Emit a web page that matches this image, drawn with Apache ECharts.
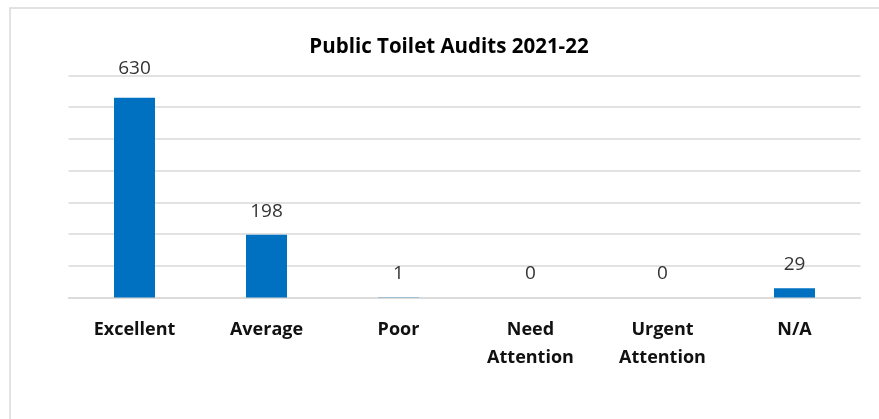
<!DOCTYPE html>
<html>
<head>
<meta charset="utf-8">
<script src="https://cdn.jsdelivr.net/npm/echarts@6/dist/echarts.min.js"></script>
<style>
  html, body { margin: 0; padding: 0; background: #fff; }
  #chart { width: 879px; height: 419px; }
</style>
</head>
<body>
<div id="chart"></div>
<script>
var categories = ["Excellent", "Average", "Poor", "Need\nAttention", "Urgent\nAttention", "N/A"];
var audits = [630, 198, 1, 0, 0, 29];

var chart = echarts.init(document.getElementById("chart"));

// Excel pushed the tallest label a bit higher than the rest
var barData = audits.map(function (v, i) {
  return i === 0 ? { value: v, label: { distance: 20 } } : v;
});

var option = {
  animation: false,
  backgroundColor: "#fff",
  title: {
    text: "Public Toilet Audits 2021-22",
    left: 444,
    top: 32,
    textAlign: "center",
    textStyle: {
      fontFamily: "Open Sans",
      fontWeight: "bold",
      fontSize: 20.5,
      color: "#000"
    }
  },
  graphic: [
    {
      type: "rect",
      shape: { x: 10, y: 8, width: 880, height: 430 },
      style: { fill: "none", stroke: "#d9d9d9", lineWidth: 1.5 },
      silent: true
    }
  ],
  grid: {
    left: 68.5,
    right: 18.5,
    top: 75.5,
    bottom: 121.5
  },
  xAxis: {
    type: "category",
    data: categories,
    axisLine: { show: true, lineStyle: { color: "#d9d9d9", width: 1.5 } },
    axisTick: { show: false },
    axisLabel: {
      margin: 18,
      fontFamily: "Open Sans",
      fontWeight: "bold",
      fontSize: 18,
      lineHeight: 28,
      color: "#111"
    }
  },
  yAxis: {
    type: "value",
    min: 0,
    max: 700,
    interval: 100,
    axisLine: { show: false },
    axisTick: { show: false },
    axisLabel: { show: false },
    splitLine: { lineStyle: { color: "#d9d9d9", width: 1.5 } }
  },
  series: [
    {
      type: "bar",
      data: barData,
      barWidth: 41,
      itemStyle: { color: "#0070c0" },
      label: {
        show: true,
        position: "top",
        distance: 14,
        fontFamily: "Open Sans",
        fontSize: 19,
        color: "#333"
      }
    }
  ]
};
chart.setOption(option);
</script>
</body>
</html>
